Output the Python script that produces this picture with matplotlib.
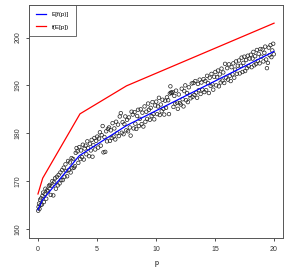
import matplotlib
matplotlib.use("Agg")
import matplotlib.pyplot as plt

plt.rcParams["font.family"] = ["Liberation Sans", "DejaVu Sans"]

# curve vertices
p_curve = [0, 0.37, 3.5, 7.5, 20]
ef_curve = [164.0, 166.0, 175.3, 181.6, 197.1]   # E[f(p)]
p_red = [0, 0.4, 3.56, 7.5, 20]
fe_curve = [167.3, 170.6, 184.05, 189.9, 203.0]  # f(E[p])

# scatter points, grouped by unit of p
p_pts = [
    0.02, 0.05, 0.09, 0.13, 0.18, 0.22, 0.27, 0.33, 0.38, 0.44, 0.5, 0.57, 0.63, 0.7, 0.78, 0.85, 0.93,
    1.01, 1.08, 1.15, 1.22, 1.3, 1.37, 1.45, 1.52, 1.6, 1.68, 1.75, 1.83, 1.9, 1.97,
    2.04, 2.1, 2.18, 2.25, 2.33, 2.4, 2.47, 2.55, 2.62, 2.7, 2.77, 2.85, 2.92, 2.98,
    3.05, 3.12, 3.2, 3.27, 3.35, 3.42, 3.5, 3.58, 3.65, 3.73, 3.8, 3.88, 3.95,
    4.03, 4.1, 4.18, 4.25, 4.33, 4.4, 4.48, 4.55, 4.62, 4.7, 4.78, 4.85, 4.93,
    5.02, 5.1, 5.17, 5.25, 5.32, 5.4, 5.48, 5.55, 5.63, 5.7, 5.78, 5.85, 5.93,
    6.02, 6.1, 6.17, 6.25, 6.32, 6.4, 6.47, 6.55, 6.62, 6.7, 6.78, 6.85, 6.93,
    7.02, 7.1, 7.17, 7.25, 7.32, 7.4, 7.48, 7.55, 7.63, 7.7, 7.78, 7.85, 7.93,
    8.03, 8.1, 8.18, 8.25, 8.33, 8.4, 8.48, 8.55, 8.63, 8.7, 8.78, 8.85, 8.93,
    9.03, 9.1, 9.18, 9.25, 9.33, 9.4, 9.48, 9.55, 9.63, 9.7, 9.78, 9.85, 9.93,
    10.02, 10.1, 10.17, 10.25, 10.32, 10.4, 10.48, 10.55, 10.63, 10.7, 10.78, 10.85, 10.93,
    11.03, 11.1, 11.17, 11.22, 11.27, 11.33, 11.4, 11.48, 11.55, 11.63, 11.7, 11.78, 11.85, 11.93,
    12.03, 12.1, 12.18, 12.25, 12.33, 12.4, 12.48, 12.55, 12.63, 12.7, 12.78, 12.85, 12.93,
    13.03, 13.1, 13.18, 13.25, 13.33, 13.4, 13.48, 13.55, 13.63, 13.7, 13.78, 13.85, 13.93,
    14.03, 14.1, 14.18, 14.25, 14.33, 14.4, 14.48, 14.55, 14.63, 14.7, 14.78, 14.85, 14.93,
    15.03, 15.1, 15.18, 15.25, 15.33, 15.4, 15.48, 15.55, 15.63, 15.7, 15.78, 15.85, 15.93,
    16.03, 16.1, 16.18, 16.25, 16.33, 16.4, 16.48, 16.55, 16.63, 16.7, 16.78, 16.85, 16.93,
    17.03, 17.1, 17.18, 17.25, 17.33, 17.4, 17.48, 17.55, 17.63, 17.7, 17.78, 17.85, 17.93,
    18.03, 18.1, 18.18, 18.25, 18.33, 18.4, 18.48, 18.55, 18.63, 18.7, 18.78, 18.85, 18.93,
    19.03, 19.1, 19.18, 19.25, 19.33, 19.4, 19.48, 19.55, 19.63, 19.7, 19.78, 19.85, 19.93, 19.98,
]
y_pts = [
    163.8, 164.6, 165.3, 164.2, 166.1, 165.0, 166.4, 165.1, 166.9, 167.6, 165.6, 167.3, 168.4, 166.3, 168.1, 167.9, 169.0,
    169.2, 167.1, 169.0, 170.0, 167.0, 169.8, 170.6, 168.4, 170.9, 169.1, 171.3, 169.5, 171.8, 170.2,
    172.3, 170.2, 172.8, 170.9, 173.5, 172.1, 171.0, 174.2, 172.3, 173.9, 171.8, 174.8, 172.7, 174.6,
    172.8, 173.1, 175.9, 176.9, 176.2, 173.8, 177.1, 174.6, 176.4, 175.0, 177.6, 174.5, 176.8,
    177.4, 175.6, 178.3, 176.9, 175.2, 177.8, 176.4, 178.6, 175.1, 177.5, 179.0, 176.6, 178.4,
    179.3, 177.0, 178.9, 180.2, 177.4, 179.6, 181.5, 176.0, 179.2, 176.1, 180.4, 178.3, 180.9,
    181.2, 178.4, 180.6, 179.0, 182.1, 179.3, 181.0, 178.7, 182.4, 180.0, 181.8, 179.4, 183.5,
    184.2, 180.1, 182.3, 179.8, 181.9, 183.5, 180.6, 182.8, 180.4, 183.3, 181.2, 179.5, 184.5,
    183.9, 181.0, 184.4, 182.0, 180.9, 183.6, 184.9, 181.5, 183.0, 185.0, 181.9, 184.3, 181.4,
    185.6, 182.4, 184.5, 183.0, 186.2, 184.9, 182.8, 185.3, 183.6, 186.5, 184.0, 182.9, 185.8,
    186.6, 184.0, 185.6, 187.4, 183.8, 186.0, 184.6, 187.0, 185.1, 183.9, 186.8, 185.3, 187.5,
    186.9, 184.0, 188.3, 189.8, 188.5, 188.4, 188.6, 185.5, 187.8, 186.2, 188.9, 186.4, 185.1, 188.1,
    186.3, 186.0, 189.3, 187.1, 185.6, 188.8, 190.0, 186.9, 188.4, 186.5, 189.6, 188.0, 187.3,
    190.4, 187.6, 190.5, 188.0, 190.9, 188.5, 187.4, 190.3, 189.0, 191.2, 188.2, 190.6, 189.1,
    191.3, 188.6, 190.9, 189.0, 192.0, 190.5, 188.4, 191.6, 189.9, 192.4, 190.2, 189.1, 191.8,
    192.8, 190.0, 191.7, 193.1, 189.8, 192.3, 190.6, 193.5, 191.0, 192.7, 190.5, 194.5, 191.6,
    193.6, 191.2, 194.4, 192.0, 190.9, 193.8, 192.3, 194.6, 191.6, 193.3, 195.0, 192.4, 194.1,
    195.2, 192.5, 194.1, 195.8, 192.8, 194.7, 196.0, 193.0, 195.3, 193.6, 196.2, 194.0, 195.6,
    196.4, 193.8, 195.6, 197.0, 194.2, 196.1, 194.5, 197.4, 195.1, 196.6, 194.6, 197.6, 196.0,
    197.5, 195.0, 196.8, 198.1, 195.4, 193.6, 194.7, 197.9, 196.3, 198.4, 195.9, 197.3, 198.7, 196.5,
]

x_ticks = [0, 5, 10, 15, 20]
y_ticks = [160, 170, 180, 190, 200]

fig = plt.figure(figsize=(2.99, 2.70), dpi=100)
ax = fig.add_axes([29 / 299, 1 - 238 / 270, 254 / 299, 233 / 270])

ax.scatter(p_pts, y_pts, s=6.5, facecolors="none", edgecolors="#222222",
           linewidths=0.5, zorder=2)
ax.plot(p_curve, ef_curve, color="blue", lw=0.9, label="E[f(p)]", zorder=3)
ax.plot(p_red, fe_curve, color="red", lw=0.9, label="f(E[p])", zorder=3)

ax.set_xlim(-0.76, 20.76)
ax.set_ylim(158.1, 206.8)
ax.set_xticks(x_ticks)
ax.set_yticks(y_ticks)
ax.tick_params(labelsize=5, length=2.5, width=0.6, pad=3, colors="#333333")
for lab in ax.get_yticklabels():
    lab.set_rotation(90)
    lab.set_va("center")
ax.set_xlabel("p", fontsize=5, labelpad=5)
for s in ax.spines.values():
    s.set_color("#555555")
    s.set_linewidth(0.7)

leg = ax.legend(loc="upper left", bbox_to_anchor=(0, 1), borderaxespad=0,
                fancybox=False, edgecolor="#444444", fontsize=4.5,
                handlelength=1.65, labelspacing=1.1, borderpad=1.1,
                handletextpad=0.85)
leg.get_frame().set_linewidth(0.7)

fig.savefig("out.png", dpi=100)
